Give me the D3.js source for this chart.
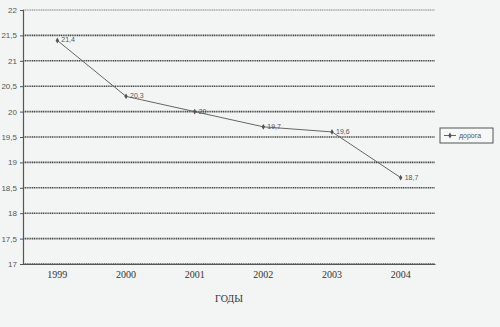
<!DOCTYPE html>
<html lang="ru">
<head>
<meta charset="UTF-8">
<title>дорога</title>
<style>
  html, body { margin: 0; padding: 0; background: #f3f5f5; }
  svg { display: block; }
  .grid line { stroke: #4a4a4a; stroke-width: 1.6; stroke-dasharray: 1.2 0.6; }
  .ylab { font-family: "Liberation Sans", Arial, sans-serif; font-size: 8px; fill: #555; }
  .xlab { font-family: "Liberation Serif", "Times New Roman", serif; font-size: 10px; fill: #333; }
  .dlab { font-family: "Liberation Sans", Arial, sans-serif; font-size: 7px; fill: #555; }
</style>
</head>
<body>
<svg width="500" height="327"></svg>
<script src="https://d3js.org/d3.v7.min.js"></script>
<script>
const years = ["1999", "2000", "2001", "2002", "2003", "2004"];
const values = [21.4, 20.3, 20, 19.7, 19.6, 18.7];
const yTicks = [17, 17.5, 18, 18.5, 19, 19.5, 20, 20.5, 21, 21.5, 22];
const seriesName = "дорога";
const axisTitle = "ГОДЫ";

const svg = d3.select("svg");
const plotLeft = 23, plotRight = 435, plotTop = 10, plotBottom = 264;

const x = d3.scaleBand().domain(years).range([plotLeft, plotRight]);
const y = d3.scaleLinear().domain([17, 22]).range([plotBottom, plotTop]);
const fmt = v => String(v).replace(".", ",");

// grid lines
svg.append("g").attr("class", "grid")
  .selectAll("line").data(yTicks).join("line")
  .attr("x1", plotLeft).attr("x2", plotRight)
  .attr("y1", d => y(d)).attr("y2", d => y(d))
  .attr("stroke-opacity", d => d === 22 ? 0.45 : 1);

// y axis
const yAxis = svg.append("g")
  .attr("transform", `translate(${plotLeft},0)`)
  .call(d3.axisLeft(y).tickValues(yTicks).tickFormat(fmt).tickSize(3).tickPadding(3));
yAxis.select(".domain").attr("stroke", "#555").attr("stroke-width", 1.2);
yAxis.selectAll(".tick line").attr("stroke", "#555");
yAxis.attr("font-size", null).attr("font-family", null);
yAxis.selectAll("text").attr("class", "ylab").attr("fill", null);

// x axis
const xAxis = svg.append("g")
  .attr("transform", `translate(0,${plotBottom})`)
  .call(d3.axisBottom(x).tickSize(0).tickPadding(7));
xAxis.select(".domain").attr("stroke", "#555").attr("stroke-width", 1.2);
xAxis.attr("font-size", null).attr("font-family", null);
xAxis.selectAll("text").attr("class", "xlab").attr("fill", null);

svg.append("text").attr("class", "xlab")
  .attr("x", (plotLeft + plotRight) / 2).attr("y", 302)
  .attr("text-anchor", "middle").text(axisTitle);

// series
const pts = years.map((yr, i) => ({ yr, v: values[i] }));
const line = d3.line().x(d => x(d.yr) + x.bandwidth() / 2).y(d => y(d.v));
svg.append("path").datum(pts)
  .attr("fill", "none").attr("stroke", "#666").attr("stroke-width", 1)
  .attr("d", line);

const diamond = d3.symbol().type(d3.symbolDiamond).size(10);
svg.append("g").selectAll("path").data(pts).join("path")
  .attr("d", diamond)
  .attr("fill", "#555")
  .attr("transform", d => `translate(${x(d.yr) + x.bandwidth() / 2},${y(d.v)})`);

svg.append("g").selectAll("text").data(pts).join("text")
  .attr("class", "dlab")
  .attr("x", d => x(d.yr) + x.bandwidth() / 2 + 4)
  .attr("y", d => y(d.v) + 2)
  .text(d => fmt(d.v));

// legend
const lg = svg.append("g").attr("transform", "translate(440,128)");
lg.append("rect").attr("width", 53).attr("height", 15)
  .attr("fill", "#f7f8f8").attr("stroke", "#555").attr("stroke-width", 1);
lg.append("line").attr("x1", 4).attr("x2", 16).attr("y1", 7.5).attr("y2", 7.5)
  .attr("stroke", "#666").attr("stroke-width", 1);
lg.append("path").attr("d", diamond).attr("fill", "#555").attr("transform", "translate(10,7.5)");
lg.append("text").attr("class", "dlab").attr("x", 19).attr("y", 10).text(seriesName);
</script>
</body>
</html>
